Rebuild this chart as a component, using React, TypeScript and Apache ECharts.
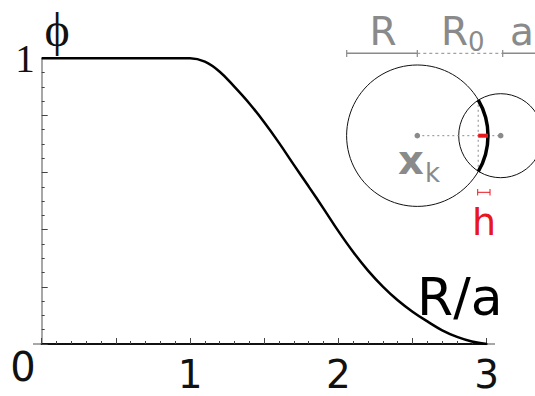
import React, { useEffect, useRef } from "react";
import * as echarts from "echarts";

// Curve: phi vs R/a
const ratioValues = [0, 0.5, 0.9, 1.0, 1.1, 1.2, 1.3, 1.4, 1.5, 1.6, 1.7, 1.8, 1.9, 2.0, 2.1, 2.2, 2.3, 2.4, 2.5, 2.6, 2.7, 2.8, 2.9, 3.0];
const phiValues = [1, 1, 1, 1.0, 0.988, 0.953, 0.9, 0.842, 0.776, 0.704, 0.627, 0.551, 0.474, 0.395, 0.322, 0.257, 0.201, 0.153, 0.113, 0.079, 0.048, 0.025, 0.009, 0.0];
const xTickLabels = ["1", "2", "3"];
const yTickLabels = ["1"];

const SANS = "DejaVu Sans, Verdana, sans-serif";
const SERIF = "Liberation Serif, DejaVu Serif, serif";
const GRAY = "#8a8a8a";
const RED = "#e8161d";

export default function App() {
  const ref = useRef<HTMLDivElement>(null);
  useEffect(() => {
    if (!ref.current) return;
    const chart = echarts.init(ref.current, null, { renderer: "svg" });
    const data = ratioValues.map((v, i) => [v, phiValues[i]]);

    // inset geometry (decoration)
    const bx = 417.3, by = 135.7, bR = 70.7;
    const sx = 500.7, sr = 42;
    const chordX = 478.2;
    const ang = Math.acos((chordX - bx) / bR);
    const half = Math.sqrt(bR * bR - (chordX - bx) ** 2);

    chart.setOption({
      animation: false,
      grid: { left: 41.7, right: 48.3, top: 58.3, bottom: 52, containLabel: false },
      xAxis: {
        type: "value",
        min: 0,
        max: 3,
        interval: 0.5,
        axisLine: { show: true, lineStyle: { color: "#111", width: 2 } },
        axisTick: { show: true, inside: true, length: 6, lineStyle: { color: "#444", width: 1 } },
        minorTick: { show: true, splitNumber: 5, length: 3, lineStyle: { color: "#444", width: 1 } },
        splitLine: { show: false },
        minorSplitLine: { show: false },
        axisLabel: {
          show: true,
          margin: 15.4,
          fontSize: 39,
          lineHeight: 30,
          fontFamily: SANS,
          color: "#111",
          formatter: (v: number) => (xTickLabels.includes(String(v)) ? String(v) : ""),
        },
      },
      yAxis: {
        type: "value",
        min: 0,
        max: 1,
        interval: 0.2,
        axisLine: { show: true, lineStyle: { color: GRAY, width: 1.5 } },
        axisTick: { show: true, inside: true, length: 6, lineStyle: { color: "#444", width: 1 } },
        minorTick: { show: true, splitNumber: 4, length: 3, lineStyle: { color: "#444", width: 1 } },
        splitLine: { show: false },
        minorSplitLine: { show: false },
        axisLabel: {
          show: true,
          margin: 7,
          fontSize: 39,
          fontFamily: SERIF,
          color: "#111",
          padding: [12, 0, 0, 0],
          formatter: (v: number) => (yTickLabels.includes(String(v)) ? String(v) : ""),
        },
      },
      series: [
        {
          type: "line",
          data,
          showSymbol: false,
          smooth: 0.4,
          lineStyle: { color: "#000", width: 2.5 },
          z: 3,
        },
      ],
      graphic: [
        // axis extensions
        { type: "line", shape: { x1: 33, y1: 344, x2: 41.7, y2: 344 }, style: { stroke: GRAY, lineWidth: 1.5 } },
        { type: "line", shape: { x1: 486.7, y1: 344, x2: 495, y2: 344 }, style: { stroke: GRAY, lineWidth: 1.5 } },
        // labels
        { type: "text", x: 57, y: 29, style: { text: "ϕ", fontSize: 48, fontFamily: SERIF, fill: "#111", align: "center", verticalAlign: "middle" } },
        { type: "text", x: 23, y: 367, style: { text: "0", fontSize: 40, lineHeight: 30, fontFamily: SANS, fill: "#111", align: "center", verticalAlign: "middle" } },
        { type: "text", x: 417, y: 296.6, style: { text: "R/a", fontSize: 52, fontFamily: SANS, fill: "#000", align: "left", verticalAlign: "middle" } },
        // inset scale bar
        { type: "line", shape: { x1: 346.7, y1: 53.3, x2: 417.3, y2: 53.3 }, style: { stroke: GRAY, lineWidth: 1.5 } },
        { type: "line", shape: { x1: 417.3, y1: 53.3, x2: 502.7, y2: 53.3 }, style: { stroke: GRAY, lineWidth: 1, lineDash: [3, 3] } },
        { type: "line", shape: { x1: 502.7, y1: 53.3, x2: 535, y2: 53.3 }, style: { stroke: GRAY, lineWidth: 1.5 } },
        { type: "line", shape: { x1: 346.7, y1: 50, x2: 346.7, y2: 57 }, style: { stroke: GRAY, lineWidth: 1.2 } },
        { type: "line", shape: { x1: 417.3, y1: 50, x2: 417.3, y2: 57 }, style: { stroke: GRAY, lineWidth: 1.2 } },
        { type: "line", shape: { x1: 502.7, y1: 50, x2: 502.7, y2: 57 }, style: { stroke: GRAY, lineWidth: 1.2 } },
        { type: "text", x: 383, y: 31.4, style: { text: "R", fontSize: 39, fontFamily: SANS, fill: GRAY, align: "center", verticalAlign: "middle" } },
        { type: "text", x: 441, y: 31.4, style: { text: "R", fontSize: 39, fontFamily: SANS, fill: GRAY, align: "left", verticalAlign: "middle" } },
        { type: "text", x: 468, y: 42.3, style: { text: "0", fontSize: 26, fontFamily: SANS, fill: GRAY, align: "left", verticalAlign: "middle" } },
        { type: "text", x: 510, y: 31.4, style: { text: "a", fontSize: 39, fontFamily: SANS, fill: GRAY, align: "left", verticalAlign: "middle" } },
        // circles
        { type: "circle", shape: { cx: bx, cy: by, r: bR }, style: { fill: "none", stroke: "#111", lineWidth: 1 } },
        { type: "circle", shape: { cx: sx, cy: by, r: sr }, style: { fill: "none", stroke: "#111", lineWidth: 1 } },
        { type: "line", shape: { x1: bx, y1: by, x2: sx, y2: by }, style: { stroke: GRAY, lineWidth: 1, lineDash: [2, 3] } },
        { type: "line", shape: { x1: chordX, y1: by - half, x2: chordX, y2: by + half }, style: { stroke: GRAY, lineWidth: 1, lineDash: [2, 3] } },
        { type: "arc", shape: { cx: bx, cy: by, r: bR, startAngle: -ang, endAngle: ang, clockwise: true }, style: { fill: "none", stroke: "#000", lineWidth: 3.5 } },
        { type: "circle", shape: { cx: bx, cy: by, r: 2.8 }, style: { fill: GRAY } },
        { type: "circle", shape: { cx: sx, cy: by, r: 2.8 }, style: { fill: GRAY } },
        { type: "line", shape: { x1: chordX, y1: by, x2: bx + bR, y2: by }, style: { stroke: RED, lineWidth: 4 } },
        { type: "text", x: 411, y: 160, style: { text: "x", fontSize: 40, fontWeight: "bold", fontFamily: SANS, fill: GRAY, align: "center", verticalAlign: "middle" } },
        { type: "text", x: 425, y: 173.3, style: { text: "k", fontSize: 26, fontFamily: SANS, fill: GRAY, align: "left", verticalAlign: "middle" } },
        // h marker
        { type: "line", shape: { x1: 477.7, y1: 192.3, x2: 490, y2: 192.3 }, style: { stroke: RED, lineWidth: 1 } },
        { type: "line", shape: { x1: 477.7, y1: 189, x2: 477.7, y2: 195.5 }, style: { stroke: RED, lineWidth: 1 } },
        { type: "line", shape: { x1: 490, y1: 189, x2: 490, y2: 195.5 }, style: { stroke: RED, lineWidth: 1 } },
        { type: "text", x: 484, y: 221.7, style: { text: "h", fontSize: 38, fontFamily: SANS, fill: RED, align: "center", verticalAlign: "middle" } },
      ],
    });
    return () => chart.dispose();
  }, []);
  return <div ref={ref} style={{ position: "fixed", left: 0, top: 0, width: 535, height: 396, background: "#fff" }} />;
}
